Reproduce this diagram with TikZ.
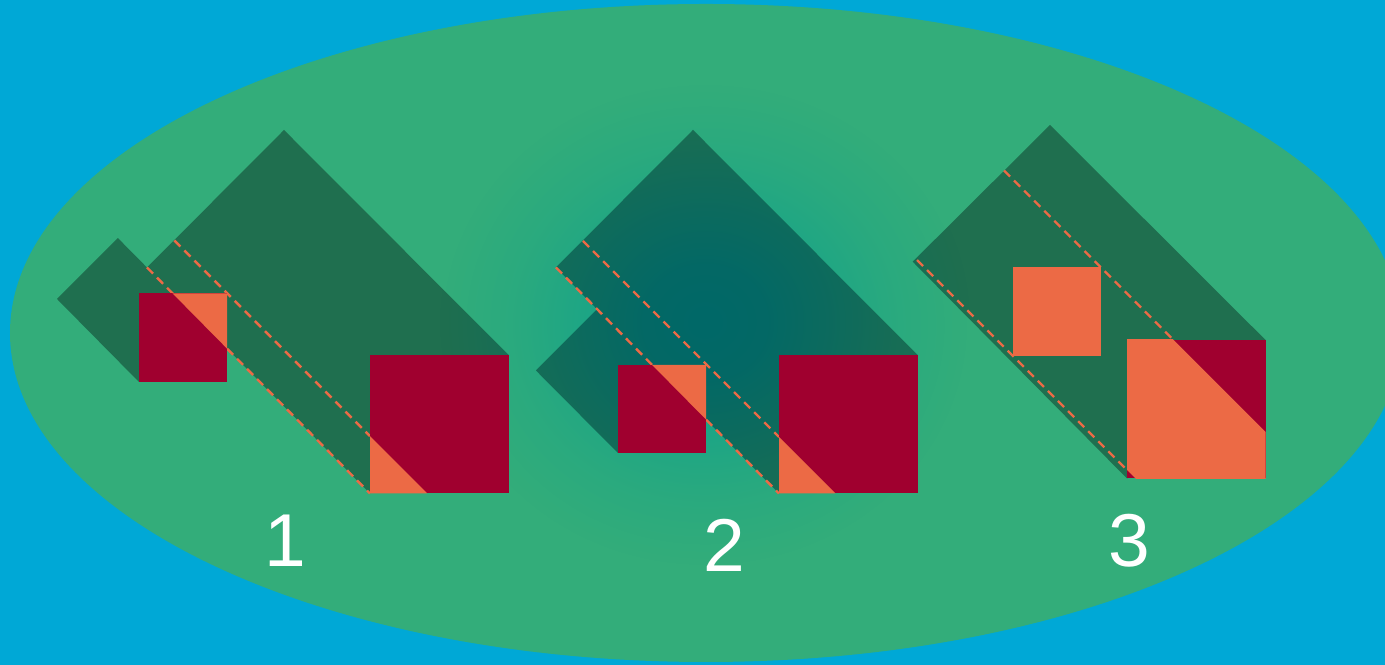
\documentclass[tikz,border=0pt]{standalone}
\usepackage{fontspec}
\setmainfont{Liberation Sans}
\usetikzlibrary{calc,fadings}

\definecolor{skyblue}{HTML}{00A8D6}
\definecolor{field}{HTML}{33AD7A}
\definecolor{shade}{HTML}{1F6F4F}
\definecolor{crimson}{HTML}{A0002F}
\definecolor{coral}{HTML}{EC6A45}
\definecolor{glowback}{HTML}{10A18C}
\definecolor{glowshade}{HTML}{006868}

% soft radial fall-off: opaque (white) centre, transparent (black) at the path's edge
\pgfdeclareradialshading{glowprofile}{\pgfpointorigin}{%
  color(0bp)=(white);
  color(6bp)=(white!88!black);
  color(12bp)=(white!58!black);
  color(18bp)=(white!26!black);
  color(25bp)=(black);
  color(50bp)=(black)}
\pgfdeclarefading{softglow}{\pgfuseshading{glowprofile}}

\tikzset{
  shadowfill/.style={fill=shade},
  guide/.style={draw=coral, line width=0.68pt, dash pattern=on 2.45pt off 1.6pt},
  redsq/.style={fill=crimson},
  overlap/.style={fill=coral},
  numlabel/.style={text=white, font=\fontsize{21.3pt}{25pt}\selectfont,
                   anchor=base, inner sep=0pt},
}

\begin{document}
\begin{tikzpicture}[x=0.01cm, y=-0.01cm]
% backdrop
\fill[skyblue] (0,0) rectangle (1385,665);
\useasboundingbox (0,0) rectangle (1385,665);
\fill[field] (706,333) ellipse (696 and 329);
\fill[glowback, path fading=softglow] (705,325) ellipse (262 and 240);

% ---- shadow outlines ----
% panel 1
\coordinate (p1A) at (284,130);   \coordinate (p1B) at (508.5,355);
\coordinate (p1C) at (370,493.5); \coordinate (p1D) at (147,267.5);
\coordinate (p1L) at (57,299);    \coordinate (p1T) at (117.9,238.1);
\coordinate (p1R) at (199.9,321.1); \coordinate (p1S) at (139,382);
% panel 2
\coordinate (p2A) at (693,130);   \coordinate (p2B) at (917.5,355);
\coordinate (p2C) at (779,493.5); \coordinate (p2D) at (556,267.5);
\coordinate (p2L) at (536,370.5); \coordinate (p2T) at (597.2,309.3);
\coordinate (p2R) at (679.2,391.8); \coordinate (p2S) at (618,453);
% panel 3
\coordinate (p3A) at (1050,125);  \coordinate (p3B) at (1265.5,340);
\coordinate (p3C) at (1127,478.5); \coordinate (p3D) at (912.7,261.7);

\fill[shadowfill]
  (p1A)--(p1B)--(p1C)--(p1D)--cycle
  (p1L)--(p1T)--(p1R)--(p1S)--cycle
  (p2A)--(p2B)--(p2C)--(p2D)--cycle
  (p2L)--(p2T)--(p2R)--(p2S)--cycle
  (p3A)--(p3B)--(p3C)--(p3D)--cycle;

% darker glow on the shadows near the middle
\begin{scope}
  \clip
    (p1A)--(p1B)--(p1C)--(p1D)--cycle
    (p1L)--(p1T)--(p1R)--(p1S)--cycle
    (p2A)--(p2B)--(p2C)--(p2D)--cycle
    (p2L)--(p2T)--(p2R)--(p2S)--cycle
    (p3A)--(p3B)--(p3C)--(p3D)--cycle;
  \fill[glowshade, path fading=softglow] (705,322) ellipse (265 and 245);
\end{scope}

% ---- guide lines ----
\coordinate (p1u1) at (174.3,240.5); \coordinate (p1u2) at (370,436.2);
\coordinate (p2u1) at (583,241);     \coordinate (p2u2) at (779,437);
\coordinate (p3u1) at (1004,170.5);  \coordinate (p3u2) at (1173.5,340);
\coordinate (p3l1) at (917,260);     \coordinate (p3l2) at (1127,470);

\draw[guide] (p1u1) -- (p1u2);
\draw[guide] (p1D) -- (p1C);
\draw[guide] (p2u1) -- (p2u2);
\draw[guide] (p2D) -- (p2C);
\draw[guide] (p3u1) -- (p3u2);
\draw[guide] (p3l1) -- (p3l2);

% ---- squares ----
% panel 1
\coordinate (s1a) at (139,293.5); \coordinate (s1b) at (227,382);
\coordinate (b1a) at (370,355);   \coordinate (b1b) at (508.5,493.5);
\fill[redsq] (s1a) rectangle (s1b);
\fill[redsq] (b1a) rectangle (b1b);
\begin{scope}
  \clip (s1a) rectangle (s1b) (b1a) rectangle (b1b);
  \fill[overlap] ($(p1u1)!-1!(p1u2)$) -- ($(p1u1)!2!(p1u2)$)
                 -- ($(p1D)!2!(p1C)$) -- ($(p1D)!-1!(p1C)$) -- cycle;
\end{scope}

% panel 2
\coordinate (s2a) at (618,365);   \coordinate (s2b) at (706,453);
\coordinate (b2a) at (779,355);   \coordinate (b2b) at (917.5,493.5);
\fill[redsq] (s2a) rectangle (s2b);
\fill[redsq] (b2a) rectangle (b2b);
\begin{scope}
  \clip (s2a) rectangle (s2b) (b2a) rectangle (b2b);
  \fill[overlap] ($(p2u1)!-1!(p2u2)$) -- ($(p2u1)!2!(p2u2)$)
                 -- ($(p2D)!2!(p2C)$) -- ($(p2D)!-1!(p2C)$) -- cycle;
\end{scope}

% panel 3
\coordinate (s3a) at (1013,267.5); \coordinate (s3b) at (1101,356);
\coordinate (b3a) at (1127,340);   \coordinate (b3b) at (1265.5,478.5);
\fill[overlap] (s3a) rectangle (s3b);
\fill[redsq] (b3a) rectangle (b3b);
\begin{scope}
  \clip (b3a) rectangle (b3b);
  \fill[overlap] ($(p3u1)!-1!(p3u2)$) -- ($(p3u1)!2!(p3u2)$)
                 -- ($(p3l1)!2!(p3l2)$) -- ($(p3l1)!-1!(p3l2)$) -- cycle;
\end{scope}

% ---- step numbers ----
\node[numlabel] (n1) at (285,567) {1};
\node[numlabel] (n2) at (724,572) {2};
\node[numlabel] (n3) at (1129,567) {3};
\end{tikzpicture}
\end{document}
